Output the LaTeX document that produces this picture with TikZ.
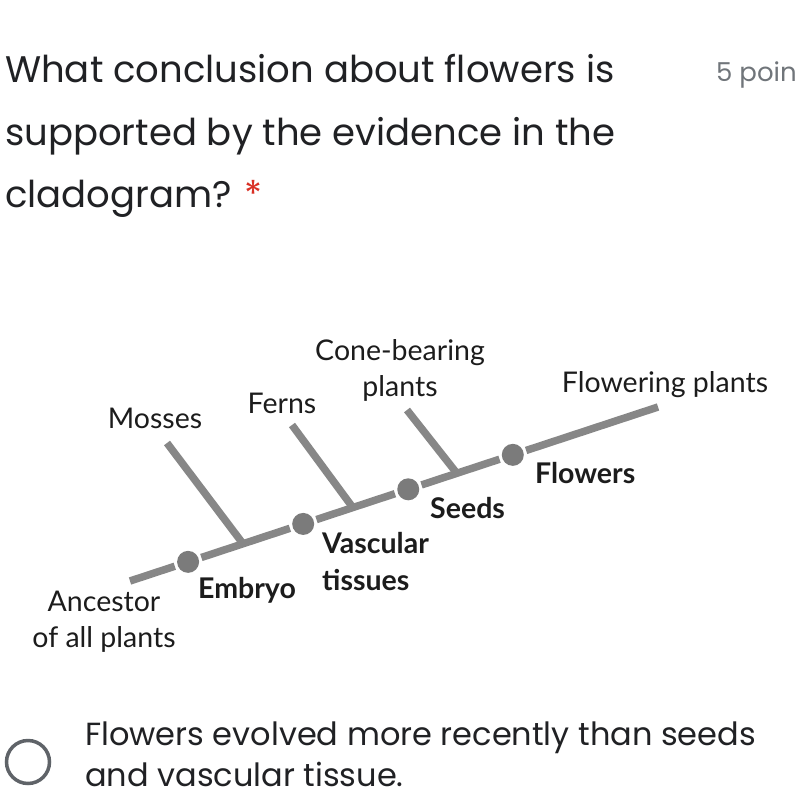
\documentclass[tikz,border=0pt]{standalone}
\usepackage{fontspec}
\setmainfont{Poppins}
\newfontfamily\cladofont{Lato}
\usetikzlibrary{positioning, calc}
\definecolor{tronco}{HTML}{878787}
\definecolor{marcacor}{HTML}{7B7B7B}
\definecolor{textopreto}{HTML}{202124}
\definecolor{rotulopreto}{HTML}{1C1C1C}
\definecolor{pontocinza}{HTML}{70757A}
\definecolor{radiocinza}{HTML}{5F6368}
\definecolor{asterisco}{HTML}{D93025}
\tikzset{
  ramo/.style={line width=7.5pt, color=tronco},
  marca/.style={circle, fill=marcacor, minimum size=22pt, inner sep=0pt, outer sep=3pt},
  rotulo/.style={font=\cladofont\fontsize{28.5}{36}\selectfont, text=rotulopreto, inner sep=0pt},
  carater/.style={rotulo, font=\cladofont\bfseries\fontsize{28.5}{37}\selectfont},
  pergunta/.style={font=\fontsize{37}{62}\selectfont, text=textopreto, inner sep=0pt, anchor=base west},
  opcao/.style={font=\fontsize{32}{49}\selectfont, text=textopreto, inner sep=0pt, anchor=base west},
}

\begin{document}
\begin{tikzpicture}[x=1pt, y=-1pt]
    \useasboundingbox (0,0) rectangle (797,797);
    \fill[white] (0,0) rectangle (797,797);

    % pergunta
    \node[pergunta] (q1) at (5,83) {What conclusion about flowers is};
    \node[pergunta] (q2) at (5,145) {supported by the evidence in the};
    \node[pergunta] (q3) at (5,207) {cladogram? {\color{asterisco}*}};
    \node[font=\fontsize{26}{26}\selectfont, text=pontocinza, inner sep=0pt, anchor=base west] (pts) at (716,82) {5 poin};

    % tronco
    \coordinate (raiz) at (130,581);
    \coordinate (ponta) at (658,407);

    \node[marca] (embrião) at ($(raiz)!0.110!(ponta)$) {};
    \node[marca] (vascular) at ($(raiz)!0.328!(ponta)$) {};
    \node[marca] (semente) at ($(raiz)!0.527!(ponta)$) {};
    \node[marca] (flor) at ($(raiz)!0.725!(ponta)$) {};

    \draw[ramo] (raiz) -- (embrião);
    \draw[ramo] (embrião) -- (vascular);
    \draw[ramo] (vascular) -- (semente);
    \draw[ramo] (semente) -- (flor);
    \draw[ramo] (flor) -- (ponta);

    % ramos
    \coordinate (jmusgo) at ($(raiz)!0.214!(ponta)$);
    \coordinate (jsamam) at ($(raiz)!0.422!(ponta)$);
    \coordinate (jcone) at ($(raiz)!0.619!(ponta)$);
    \coordinate (musgo) at (167,443);
    \coordinate (samam) at (292,425);
    \coordinate (cone) at (407,410);
    \draw[ramo] (jmusgo) -- (musgo);
    \draw[ramo] (jsamam) -- (samam);
    \draw[ramo] (jcone) -- (cone);

    % grupos (a âncora base fica na última linha)
    \node[rotulo, anchor=base] (tmusgo) at (155,428) {Mosses};
    \node[rotulo, anchor=base] (tsamam) at (282,413) {Ferns};
    \node[rotulo, align=center, anchor=base] (tcone) at (400,396) {Cone-bearing\\plants};
    \node[rotulo, anchor=base] (tflor) at (665,392) {Flowering plants};
    \node[rotulo, align=center, anchor=base] (tancestral) at (104,647) {Ancestor\\of all plants};

    % caracteres
    \node[carater, anchor=base west] (cembriao) at (198,598) {Embryo};
    \node[carater, align=left, anchor=base west] (cvasc) at (322,590) {Vascular\\tissues};
    \node[carater, anchor=base west] (csemente) at (430,518) {Seeds};
    \node[carater, anchor=base west] (cflor) at (535,483) {Flowers};

    % opção
    \node[draw=radiocinza, line width=3.5pt, circle, minimum size=43pt, inner sep=0pt] (radio) at (28,762) {};
    \node[opcao] (o1) at (85,745) {Flowers evolved more recently than seeds};
    \node[opcao] (o2) at (85,786) {and vascular tissue.};
\end{tikzpicture}
\end{document}
